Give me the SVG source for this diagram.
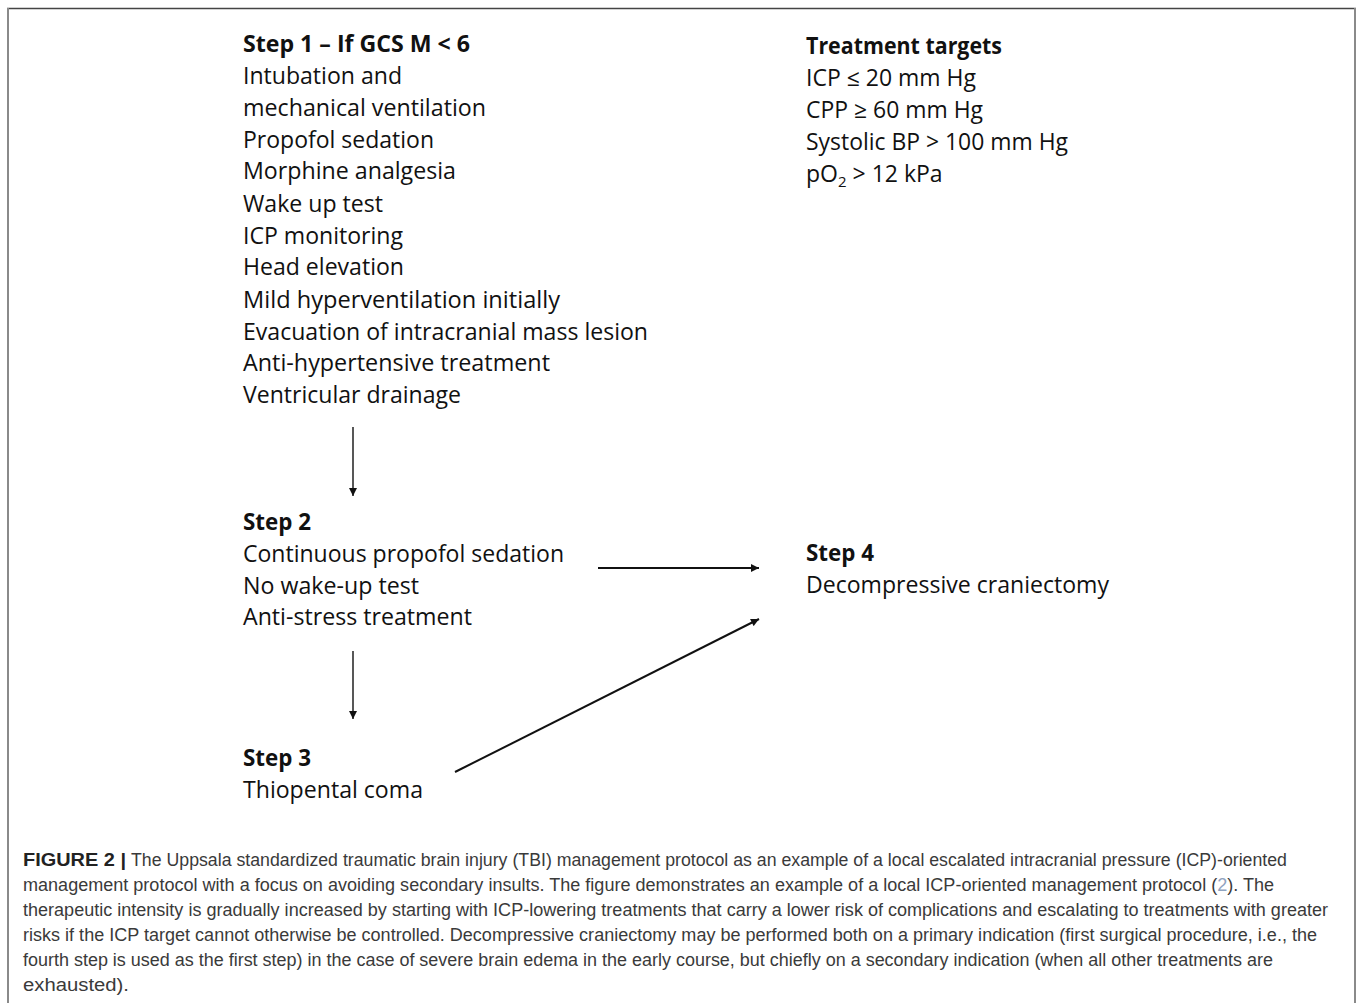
<svg xmlns="http://www.w3.org/2000/svg" width="1358" height="1003" viewBox="0 0 1358 1003">
<style>
.t{font-family:"Open Sans","Liberation Sans",sans-serif;font-size:23px;fill:#111;}
.b{font-weight:bold;}
.c{font-family:"Liberation Sans",Arial,sans-serif;font-size:17.5px;fill:#3a3a3a;}
.cb{font-weight:bold;fill:#222;}
.ln{stroke:#111;fill:none;}
</style>
<defs>
<marker id="ah" markerUnits="userSpaceOnUse" viewBox="0 0 10 10" markerWidth="9" markerHeight="8" refX="10" refY="5" orient="auto">
<path d="M0,0 L10,5 L0,10 z" fill="#111"/>
</marker>
</defs>
<rect width="1358" height="1003" fill="#fff"/>
<g id="frame">
<line x1="7" y1="8.5" x2="1356" y2="8.5" stroke="#444" stroke-width="1.5"/>
<line x1="8" y1="8" x2="8" y2="1003" stroke="#8a8a8a" stroke-width="2"/>
<line x1="1355" y1="8" x2="1355" y2="1003" stroke="#8a8a8a" stroke-width="2"/>
</g>
<g id="step1">
<text class="t b" x="243" y="52" textLength="227" lengthAdjust="spacingAndGlyphs">Step 1 – If GCS M &lt; 6</text>
<text class="t" x="243" y="84" textLength="159" lengthAdjust="spacingAndGlyphs">Intubation and</text>
<text class="t" x="243" y="116" textLength="243" lengthAdjust="spacingAndGlyphs">mechanical ventilation</text>
<text class="t" x="243" y="148" textLength="191" lengthAdjust="spacingAndGlyphs">Propofol sedation</text>
<text class="t" x="243" y="179" textLength="213" lengthAdjust="spacingAndGlyphs">Morphine analgesia</text>
<text class="t" x="243" y="212" textLength="140" lengthAdjust="spacingAndGlyphs">Wake up test</text>
<text class="t" x="243" y="244" textLength="160" lengthAdjust="spacingAndGlyphs">ICP monitoring</text>
<text class="t" x="243" y="275" textLength="161" lengthAdjust="spacingAndGlyphs">Head elevation</text>
<text class="t" x="243" y="308" textLength="317" lengthAdjust="spacingAndGlyphs">Mild hyperventilation initially</text>
<text class="t" x="243" y="340" textLength="405" lengthAdjust="spacingAndGlyphs">Evacuation of intracranial mass lesion</text>
<text class="t" x="243" y="371" textLength="307" lengthAdjust="spacingAndGlyphs">Anti-hypertensive treatment</text>
<text class="t" x="243" y="403" textLength="218" lengthAdjust="spacingAndGlyphs">Ventricular drainage</text>
</g>
<g id="targets">
<text class="t b" x="806" y="54" textLength="196" lengthAdjust="spacingAndGlyphs">Treatment targets</text>
<text class="t" x="806" y="86" textLength="170" lengthAdjust="spacingAndGlyphs">ICP ≤ 20 mm Hg</text>
<text class="t" x="806" y="118" textLength="177" lengthAdjust="spacingAndGlyphs">CPP ≥ 60 mm Hg</text>
<text class="t" x="806" y="150" textLength="262" lengthAdjust="spacingAndGlyphs">Systolic BP &gt; 100 mm Hg</text>
<text class="t" x="806" y="182">pO<tspan dy="5" font-size="15">2</tspan><tspan dy="-5"> &gt; 12 kPa</tspan></text>
</g>
<g id="step2">
<text class="t b" x="243" y="530" textLength="68" lengthAdjust="spacingAndGlyphs">Step 2</text>
<text class="t" x="243" y="562" textLength="321" lengthAdjust="spacingAndGlyphs">Continuous propofol sedation</text>
<text class="t" x="243" y="594" textLength="176" lengthAdjust="spacingAndGlyphs">No wake-up test</text>
<text class="t" x="243" y="625" textLength="229" lengthAdjust="spacingAndGlyphs">Anti-stress treatment</text>
</g>
<g id="step3">
<text class="t b" x="243" y="766" textLength="68" lengthAdjust="spacingAndGlyphs">Step 3</text>
<text class="t" x="243" y="798" textLength="180" lengthAdjust="spacingAndGlyphs">Thiopental coma</text>
</g>
<g id="step4">
<text class="t b" x="806" y="561" textLength="68" lengthAdjust="spacingAndGlyphs">Step 4</text>
<text class="t" x="806" y="593" textLength="303" lengthAdjust="spacingAndGlyphs">Decompressive craniectomy</text>
</g>
<g id="connectors">
<line class="ln" x1="353" y1="427" x2="353" y2="496" stroke-width="1.4" marker-end="url(#ah)"/>
<line class="ln" x1="353" y1="651" x2="353" y2="719" stroke-width="1.4" marker-end="url(#ah)"/>
<line class="ln" x1="598" y1="568" x2="759" y2="568" stroke-width="2" marker-end="url(#ah)"/>
<line class="ln" x1="455" y1="772" x2="759" y2="619" stroke-width="2" marker-end="url(#ah)"/>
</g>
<g id="caption">
<text class="c cb" x="23" y="866" textLength="103" lengthAdjust="spacingAndGlyphs">FIGURE 2 |</text>
<text class="c" x="131" y="866" textLength="1156" lengthAdjust="spacingAndGlyphs">The Uppsala standardized traumatic brain injury (TBI) management protocol as an example of a local escalated intracranial pressure (ICP)-oriented</text>
<text class="c" x="23" y="891" textLength="1251" lengthAdjust="spacingAndGlyphs">management protocol with a focus on avoiding secondary insults. The figure demonstrates an example of a local ICP-oriented management protocol (<tspan fill="#8fa3bf">2</tspan>). The</text>
<text class="c" x="23" y="916" textLength="1305" lengthAdjust="spacingAndGlyphs">therapeutic intensity is gradually increased by starting with ICP-lowering treatments that carry a lower risk of complications and escalating to treatments with greater</text>
<text class="c" x="23" y="941" textLength="1294" lengthAdjust="spacingAndGlyphs">risks if the ICP target cannot otherwise be controlled. Decompressive craniectomy may be performed both on a primary indication (first surgical procedure, i.e., the</text>
<text class="c" x="23" y="966" textLength="1250" lengthAdjust="spacingAndGlyphs">fourth step is used as the first step) in the case of severe brain edema in the early course, but chiefly on a secondary indication (when all other treatments are</text>
<text class="c" x="23" y="991" textLength="106" lengthAdjust="spacingAndGlyphs">exhausted).</text>
</g>
</svg>
